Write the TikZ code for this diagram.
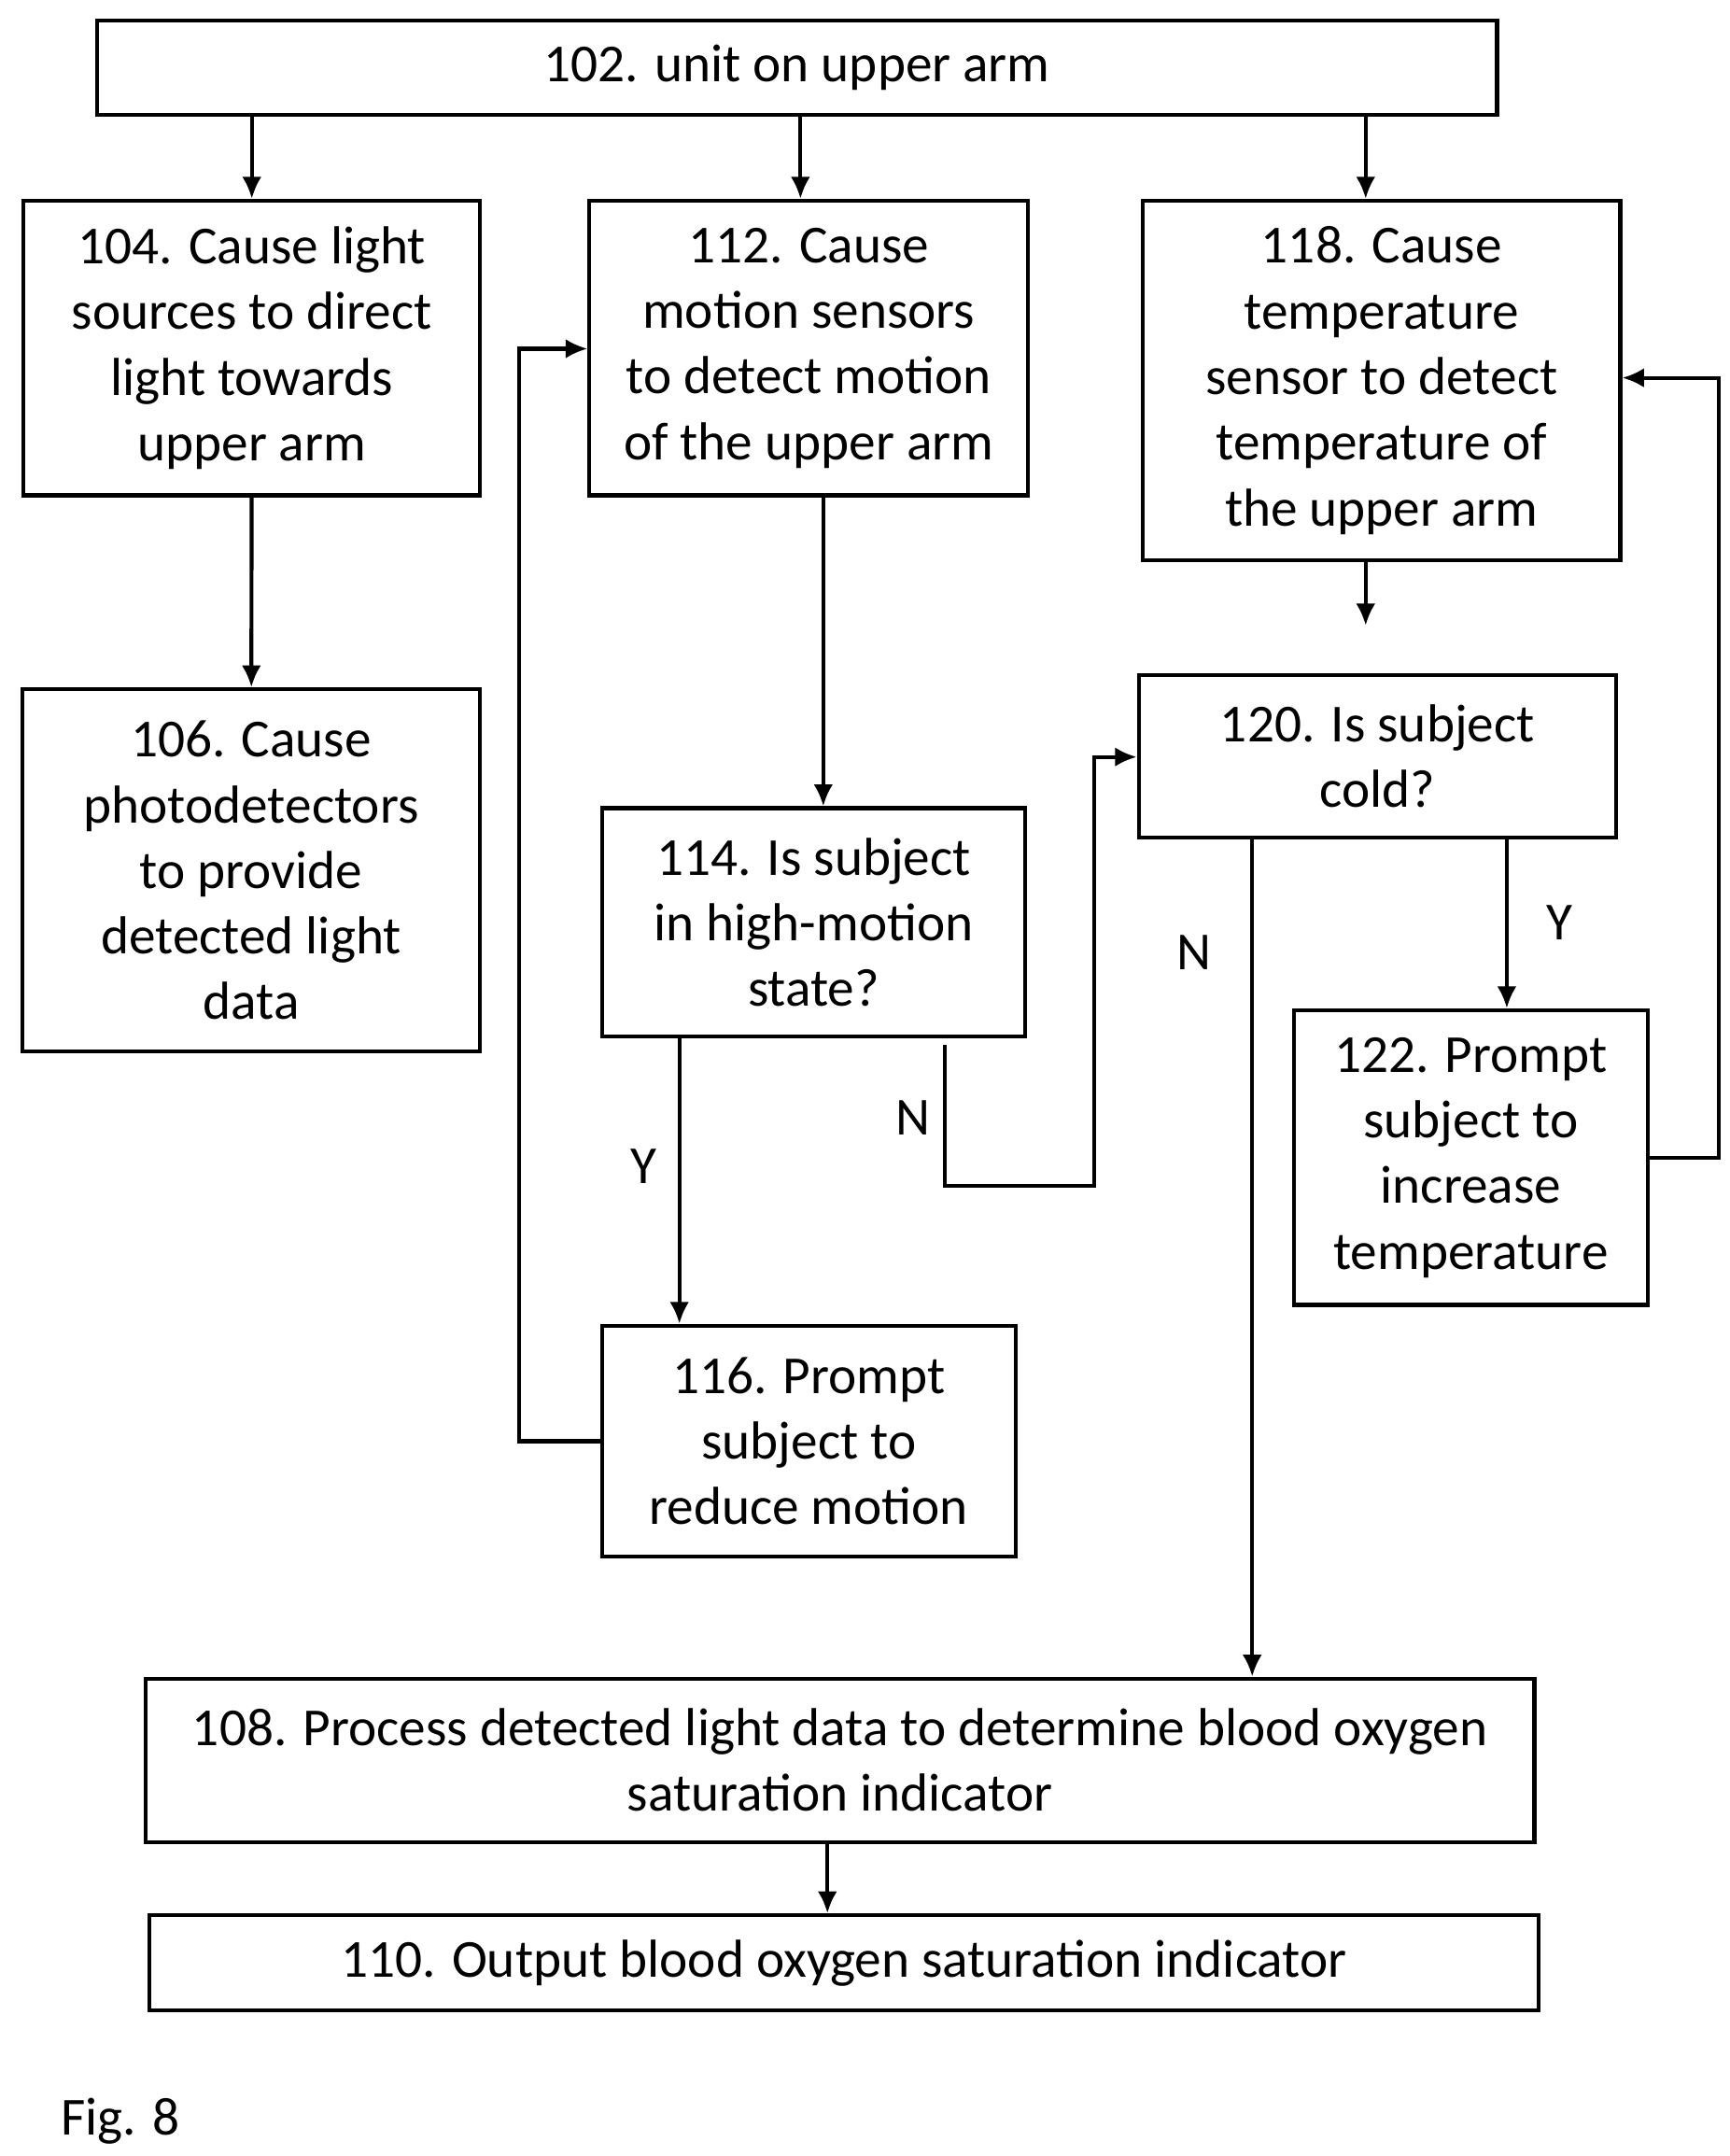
\documentclass[tikz,border=0pt]{standalone}
\usepackage{fontspec}
\setmainfont{Carlito}
\usetikzlibrary{arrows.meta}
\begin{document}
\begin{tikzpicture}[x=0.02cm,y=-0.02cm,
  box/.style={draw,line width=1.6pt,align=center,inner sep=2pt,font=\fontsize{22}{27}\selectfont},
  flow/.style={line width=1.6pt,-{Latex[length=9pt,width=8pt]}},
  lbl/.style={font=\fontsize{22}{27}\selectfont}]
\useasboundingbox (0,0) rectangle (1250,1558);
% boxes
\node[box,minimum width=20.24cm,minimum height=1.36cm] (a102) at (576,49) {102. unit on upper arm};
\node[box,minimum width=6.6cm,minimum height=4.26cm] (a104) at (182,251.5) {104. Cause light\\sources to direct\\light towards\\upper arm};
\node[box,minimum width=6.34cm,minimum height=4.26cm] (a112) at (584.5,251.5) {112. Cause\\motion sensors\\to detect motion\\of the upper arm};
\node[box,minimum width=6.9cm,minimum height=5.2cm] (a118) at (998.5,275) {118. Cause\\temperature\\sensor to detect\\temperature of\\the upper arm};
\node[box,minimum width=6.62cm,minimum height=5.24cm] (a106) at (181.5,629) {106. Cause\\photodetectors\\to provide\\detected light\\data};
\node[box,minimum width=6.9cm,minimum height=2.34cm] (a120) at (995.5,546.5) {120. Is subject\\cold?};
\node[box,minimum width=6.12cm,minimum height=3.3cm] (a114) at (588,666.5) {114. Is subject\\in high-motion\\state?};
\node[box,minimum width=5.12cm,minimum height=4.26cm] (a122) at (1063,836.5) {122. Prompt\\subject to\\increase\\temperature};
\node[box,minimum width=5.98cm,minimum height=3.34cm] (a116) at (584.5,1041.5) {116. Prompt\\subject to\\reduce motion};
\node[box,minimum width=20.08cm,minimum height=2.36cm] (a108) at (607,1272) {108. Process detected light data to determine blood oxygen\\saturation indicator};
\node[box,minimum width=20.08cm,minimum height=1.38cm] (a110) at (610,1418.5) {110. Output blood oxygen saturation indicator};
\node[lbl,anchor=west] (fig) at (38,1533) {Fig. 8};
% labels
\node[lbl] (y114) at (465,843) {Y};
\node[lbl] (n114) at (660,808) {N};
\node[lbl] (n120) at (863,688) {N};
\node[lbl] (y120) at (1127,667) {Y};
\coordinate (end118) at (987,452);
% connectors
\draw[flow] (a102.south -| a104) -- (a104);
\draw[flow] ([xshift=-0.12cm]a102.south -| a112) -- ([xshift=-0.12cm]a112.north);
\draw[flow] (a102.south -| end118) -- (a118.north -| end118);
\draw[flow] (a104) -- (a106);
\draw[flow] (a118.south -| end118) -- (end118);
\draw[flow] (a112.south -| 595,0) -- (a114.north -| 595,0);
\draw[flow] (a114.south -| 491,0) -- (a116.north -| 491,0);
\draw[flow] (683,755) -- (683,857) -- (791,857) -- (791,547) -- (a120.west |- 0,547);
\draw[flow] (a116.west) -- (375,1041.5) -- (375,252) -- (a112.west |- 0,252);
\draw[flow] (a120.south -| 905,0) -- (a108.north -| 905,0);
\draw[flow] (a120.south -| 1089,0) -- (a122.north -| 1089,0);
\draw[flow] (a122.east) -- (1242,836.5) -- (1242,273) -- (a118.east |- 0,273);
\draw[flow] (a108.south -| 598,0) -- (a110.north -| 598,0);
\end{tikzpicture}
\end{document}
